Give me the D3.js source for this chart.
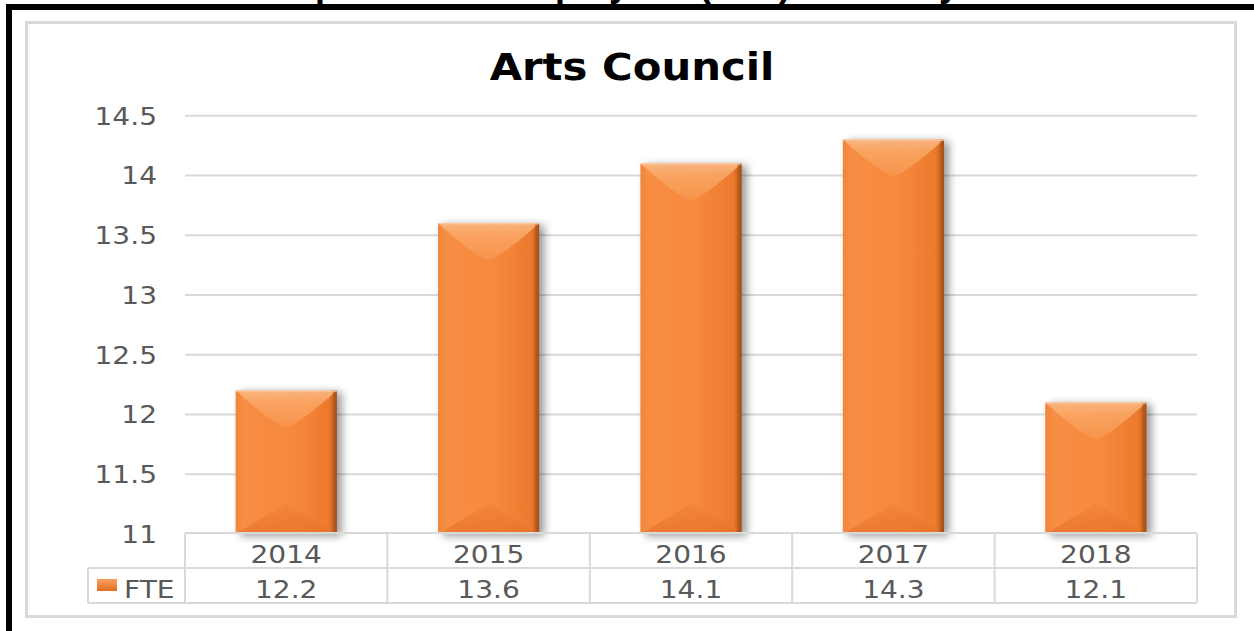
<!DOCTYPE html>
<html>
<head>
<meta charset="utf-8">
<script src="https://cdn.jsdelivr.net/npm/d3@7"></script>
<style>
  html, body { margin: 0; padding: 0; background: #fff; }
  svg { display: block; }
</style>
</head>
<body>
<svg id="chart" width="1254" height="631"></svg>
<script>
// Full time equivalent staff per year
const years = ["2014", "2015", "2016", "2017", "2018"];
const fte = [12.2, 13.6, 14.1, 14.3, 12.1];
const yTicks = [11, 11.5, 12, 12.5, 13, 13.5, 14, 14.5];
const seriesName = "FTE";
const chartTitle = "Arts Council";
const pageHeading = "Comparison of Employees (FTE) Statutory Bodies";

const svg = d3.select("#chart");
const W = 1254, H = 631;

const x = d3.scaleBand().domain(years).range([185, 1197]).paddingInner(0.5).paddingOuter(0.25);
const y = d3.scaleLinear().domain([11, 14.5]).range([534, 115.7]);
const step = x.step();
const colLeft = d => x(d) - step * 0.25;

const defs = svg.append("defs");

const body = defs.append("linearGradient").attr("id", "barBody").attr("x1", 0).attr("x2", 1).attr("y1", 0).attr("y2", 0);
body.append("stop").attr("offset", "0%").attr("stop-color", "#f0853a");
body.append("stop").attr("offset", "8%").attr("stop-color", "#f78e45");
body.append("stop").attr("offset", "55%").attr("stop-color", "#f6893d");
body.append("stop").attr("offset", "92%").attr("stop-color", "#ec7a2d");
body.append("stop").attr("offset", "97%").attr("stop-color", "#c8621f");
body.append("stop").attr("offset", "100%").attr("stop-color", "#9e4d18");

const topG = defs.append("linearGradient").attr("id", "barTop").attr("x1", 0).attr("x2", 0).attr("y1", 0).attr("y2", 1);
topG.append("stop").attr("offset", "0%").attr("stop-color", "#fbbb88");
topG.append("stop").attr("offset", "35%").attr("stop-color", "#faa765");
topG.append("stop").attr("offset", "100%").attr("stop-color", "#f7964f");

const botG = defs.append("linearGradient").attr("id", "barBot").attr("x1", 0).attr("x2", 0).attr("y1", 0).attr("y2", 1);
botG.append("stop").attr("offset", "0%").attr("stop-color", "#f2823a");
botG.append("stop").attr("offset", "100%").attr("stop-color", "#e57227");

const sw = defs.append("linearGradient").attr("id", "swatch").attr("x1", 0).attr("x2", 0).attr("y1", 0).attr("y2", 1);
sw.append("stop").attr("offset", "0%").attr("stop-color", "#f9a061");
sw.append("stop").attr("offset", "100%").attr("stop-color", "#e06d22");

const shadow = defs.append("filter").attr("id", "shadow").attr("x", "-20%").attr("y", "-10%").attr("width", "150%").attr("height", "130%");
shadow.append("feGaussianBlur").attr("in", "SourceAlpha").attr("stdDeviation", 4).attr("result", "b");
shadow.append("feOffset").attr("in", "b").attr("dx", 5).attr("dy", 2).attr("result", "o");
shadow.append("feComponentTransfer").attr("in", "o").attr("result", "s")
  .append("feFuncA").attr("type", "linear").attr("slope", 0.4);
const merge = shadow.append("feMerge");
merge.append("feMergeNode").attr("in", "s");
merge.append("feMergeNode").attr("in", "SourceGraphic");

// page background and black frame
svg.append("rect").attr("width", W).attr("height", H).attr("fill", "#fff");

svg.append("text")
  .attr("x", 235).attr("y", -4)
  .attr("font-family", "Liberation Sans, Arial, sans-serif")
  .attr("font-weight", "bold").attr("font-size", 36)
  .attr("fill", "#000").text(pageHeading);

svg.append("rect").attr("x", 6).attr("y", 4).attr("width", W - 6).attr("height", 6).attr("fill", "#000");
svg.append("rect").attr("x", 6).attr("y", 4).attr("width", 6).attr("height", H - 4).attr("fill", "#000");

// chart area
svg.append("rect").attr("x", 26.5).attr("y", 22.5).attr("width", 1209).attr("height", 594)
  .attr("fill", "#fff").attr("stroke", "#d9d9d9").attr("stroke-width", 3);

const labelFont = "DejaVu Sans, Verdana, sans-serif";
const sx = 1.17;
function stretchedText(g, tx, ty, str, anchor) {
  return g.append("text")
    .attr("transform", `translate(${tx},${ty}) scale(${sx},1)`)
    .attr("text-anchor", anchor)
    .attr("font-family", labelFont).attr("font-size", 24)
    .attr("fill", "#595959").text(str);
}

// title
svg.append("text")
  .attr("transform", "translate(632,80) scale(1.13,1)")
  .attr("text-anchor", "middle")
  .attr("font-family", labelFont).attr("font-weight", "bold").attr("font-size", 37)
  .attr("fill", "#000").text(chartTitle);

// gridlines
svg.append("g").selectAll("line").data(yTicks.filter(t => t > 11)).join("line")
  .attr("x1", 185).attr("x2", 1197)
  .attr("y1", d => y(d)).attr("y2", d => y(d))
  .attr("stroke", "#d9d9d9").attr("stroke-width", 2);

// y axis labels
const yl = svg.append("g");
yTicks.forEach(t => stretchedText(yl, 157, y(t) + 9, String(t), "end"));

// bars with an angled bevel
const bars = svg.append("g").selectAll("g").data(years.map((yr, i) => ({ yr, v: fte[i] }))).join("g")
  .attr("filter", "url(#shadow)");

bars.each(function(d) {
  const g = d3.select(this);
  const x0 = x(d.yr), w = x.bandwidth(), x1 = x0 + w;
  const t = y(d.v), b = y(11);
  const cx = x0 + w / 2;
  const dTop = Math.min(w * 0.36, (b - t) / 2);
  const dBot = Math.min(w * 0.3, (b - t) / 2);
  g.append("rect").attr("x", x0).attr("y", t).attr("width", w).attr("height", b - t).attr("fill", "url(#barBody)");
  g.append("path")
    .attr("d", `M${x0},${t} L${x1},${t} Q${cx + w * 0.12},${t + dTop * 0.95} ${cx},${t + dTop} Q${cx - w * 0.12},${t + dTop * 0.95} ${x0},${t} Z`)
    .attr("fill", "url(#barTop)").attr("opacity", 0.85);
  g.append("path")
    .attr("d", `M${x0},${b} L${x1},${b} L${cx},${b - dBot} Z`)
    .attr("fill", "url(#barBot)").attr("opacity", 0.7);
  g.append("rect").attr("x", x1 - 4).attr("y", t).attr("width", 4).attr("height", b - t)
    .attr("fill", "#a9521a").attr("opacity", 0.5);
  g.append("line").attr("x1", x0).attr("x2", x1).attr("y1", t + 0.5).attr("y2", t + 0.5)
    .attr("stroke", "#fcd0a8").attr("stroke-width", 1);
});

// data table under the plot
const tbl = svg.append("g");
const lineCol = "#d9d9d9";
const tTop = 533, tMid = 568, tBot = 603;
tbl.append("line").attr("x1", 185).attr("x2", 1197).attr("y1", tTop).attr("y2", tTop).attr("stroke", lineCol).attr("stroke-width", 2);
tbl.append("line").attr("x1", 88).attr("x2", 1197).attr("y1", tMid).attr("y2", tMid).attr("stroke", lineCol).attr("stroke-width", 2);
tbl.append("line").attr("x1", 88).attr("x2", 1197).attr("y1", tBot).attr("y2", tBot).attr("stroke", lineCol).attr("stroke-width", 2);
tbl.append("line").attr("x1", 88).attr("x2", 88).attr("y1", tMid).attr("y2", tBot).attr("stroke", lineCol).attr("stroke-width", 2);
years.forEach(yr => {
  tbl.append("line").attr("x1", colLeft(yr)).attr("x2", colLeft(yr)).attr("y1", tTop).attr("y2", tBot)
    .attr("stroke", lineCol).attr("stroke-width", 2);
});
tbl.append("line").attr("x1", 1197).attr("x2", 1197).attr("y1", tTop).attr("y2", tBot).attr("stroke", lineCol).attr("stroke-width", 2);

years.forEach((yr, i) => {
  const cx = x(yr) + x.bandwidth() / 2;
  stretchedText(tbl, cx, 563, yr, "middle");
  stretchedText(tbl, cx, 598, String(fte[i]), "middle");
});

// legend key
tbl.append("rect").attr("x", 97).attr("y", 579).attr("width", 20).attr("height", 12).attr("fill", "url(#swatch)");
stretchedText(tbl, 124, 598, seriesName, "start");
</script>
</body>
</html>
